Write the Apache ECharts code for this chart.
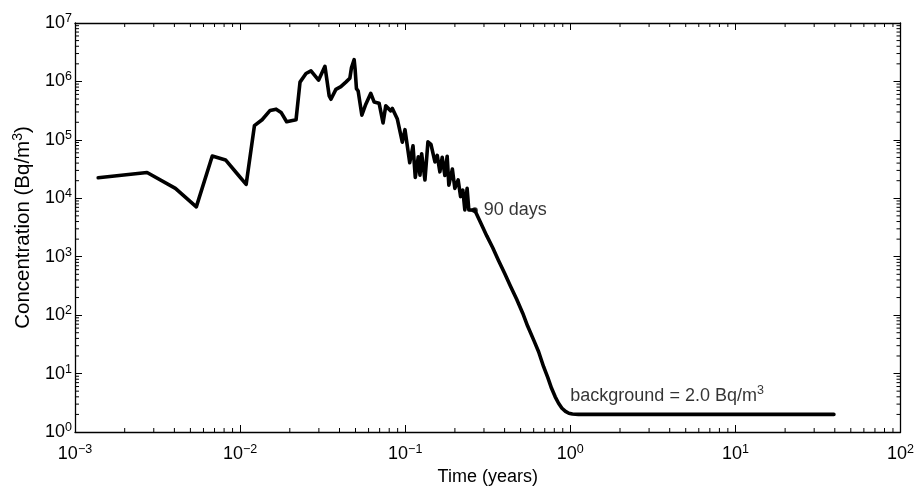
<!DOCTYPE html>
<html><head><meta charset="utf-8">
<script src="https://cdn.jsdelivr.net/npm/echarts@6/dist/echarts.min.js"></script>
<style>html,body{margin:0;padding:0;background:#fff}#c{width:917px;height:491px}</style>
</head><body><div id="c"></div>
<script>
// Time in years (x) and concentration in Bq/m^3 (y)
const timeYears = [
  0.001382, 0.002732, 0.004056, 0.005429, 0.006784, 0.008162, 0.009685, 0.01088,
  0.01221, 0.01359, 0.01520, 0.01652, 0.01771, 0.01914, 0.02182, 0.02306,
  0.02507, 0.02687, 0.02987, 0.03265, 0.03465, 0.03549, 0.03804, 0.04077,
  0.04371, 0.04621, 0.04725, 0.04906, 0.04974, 0.05066, 0.05188, 0.05461,
  0.05773, 0.06188, 0.06478, 0.06948, 0.07343, 0.07624, 0.08177, 0.08361,
  0.08961, 0.09605, 0.09972, 0.1065, 0.1115, 0.1151, 0.1200, 0.1229,
  0.1258, 0.1317, 0.1373, 0.1432, 0.1514, 0.1563, 0.1622, 0.1675,
  0.1739, 0.1795, 0.1838, 0.1930, 0.1998, 0.2093, 0.2164, 0.2234,
  0.2297, 0.2371, 0.2428, 0.264,
  0.2869, 0.312, 0.339, 0.368, 0.4006, 0.435, 0.4733, 0.515, 0.5514, 0.5995,
  0.6427, 0.689, 0.730, 0.770, 0.810, 0.849, 0.890, 0.935, 0.98, 1.03, 1.12,
  1.5, 2.0, 3.0, 5.0, 10, 20, 39.5
];
const concentration = [
  22430, 27580, 14770, 7120, 52920, 45290, 25510, 17280,
  174800, 221000, 318700, 335300, 294700, 204300, 221000, 973000,
  1366000, 1519000, 1052000, 1817000, 563400, 495200, 731800, 813400,
  973000, 1137000, 1707000, 2360000, 1597000, 752100, 684800, 265300,
  407500, 626100, 445900, 423800, 194200, 381400, 313700, 344600,
  226900, 91410, 149500, 40760, 79120, 22690, 51500, 24830,
  57910, 20590, 92500, 83880, 41880, 54180, 28350, 50500,
  24540, 52510, 16810, 31620, 14770, 20590, 10690, 13820,
  6335, 14770, 6335, 6260,
  3770, 2270, 1421, 855, 515, 310, 186.7, 108, 65.1, 37.7,
  23.6, 13.1, 8.6, 5.6, 4.0, 3.1, 2.55, 2.25, 2.09, 2.03, 2.0,
  2.0, 2.0, 2.0, 2.0, 2.0, 2.0, 2.0
];
// Annotated point (90 days)
const markTime = [0.264];
const markConc = [6260];
const markLabel = ['90 days'];
// Background annotation anchor
const bgTime = [1.0];
const bgConc = [4.1];
const bgLabel = ['background = 2.0 Bq/m'];
const bgLabelSup = '3';
// Axis ranges
const X_MIN = 1e-3, X_MAX = 1e2, Y_MIN = 1, Y_MAX = 1e7;

const FONT = '"Liberation Sans", Arial, Helvetica, sans-serif';
const lineData = timeYears.map((t, i) => [t, concentration[i]]);

function minorValues(lo, hi) {
  const out = [];
  for (let e = Math.round(Math.log10(lo)); e < Math.round(Math.log10(hi)); e++) {
    for (let k = 2; k <= 9; k++) out.push(k * Math.pow(10, e));
  }
  return out;
}
const minorX = minorValues(X_MIN, X_MAX);
const minorY = minorValues(Y_MIN, Y_MAX);

function powLabel(v) {
  const e = Math.round(Math.log10(v));
  const s = e < 0 ? '\u2212' + (-e) : String(e);
  return '{b|10}{s|' + s + '}';
}
const tickRich = {
  b: { fontSize: 18, fontFamily: FONT, color: '#000', lineHeight: 22 },
  s: { fontSize: 12.5, fontFamily: FONT, color: '#000', lineHeight: 8, verticalAlign: 'top' }
};

const axisCommon = {
  type: 'log', logBase: 10,
  axisLine: { show: true, lineStyle: { color: '#000', width: 1.3 } },
  splitLine: { show: false },
  minorTick: { show: false },
  minorSplitLine: { show: false }
};

const chart = echarts.init(document.getElementById('c'), null, { renderer: 'canvas' });
chart.setOption({
  backgroundColor: '#fff',
  animation: false,
  grid: { left: 75, right: 14, top: 23, bottom: 55, containLabel: false },
  xAxis: [
    Object.assign({}, axisCommon, {
      position: 'bottom', min: X_MIN, max: X_MAX, splitNumber: 5,
      axisTick: { show: true, inside: true, length: 7, lineStyle: { color: '#000', width: 1 } },
      axisLabel: { margin: 11, formatter: powLabel, rich: tickRich },
      name: 'Time (years)', nameLocation: 'middle', nameGap: 36,
      nameTextStyle: { fontSize: 18, fontFamily: FONT, color: '#000' }
    }),
    Object.assign({}, axisCommon, {
      position: 'top', min: X_MIN, max: X_MAX, splitNumber: 5,
      axisTick: { show: true, inside: true, length: 7, lineStyle: { color: '#000', width: 1 } },
      axisLabel: { show: false }
    })
  ],
  yAxis: [
    Object.assign({}, axisCommon, {
      position: 'left', min: Y_MIN, max: Y_MAX, splitNumber: 7,
      axisTick: { show: true, inside: true, length: 7, lineStyle: { color: '#000', width: 1 } },
      axisLabel: { margin: 3, formatter: powLabel, rich: tickRich },
      name: '{n|Concentration (Bq/m}{s|3}{n|)}', nameLocation: 'middle', nameGap: 39, nameRotate: 90,
      nameTextStyle: {
        rich: {
          n: { fontSize: 20.5, fontFamily: FONT, color: '#000', lineHeight: 25 },
          s: { fontSize: 14, fontFamily: FONT, color: '#000', lineHeight: 9, verticalAlign: 'top' }
        }
      }
    }),
    Object.assign({}, axisCommon, {
      position: 'right', min: Y_MIN, max: Y_MAX, splitNumber: 7,
      axisTick: { show: true, inside: true, length: 7, lineStyle: { color: '#000', width: 1 } },
      axisLabel: { show: false }
    })
  ],
  series: [
    {
      type: 'custom', xAxisIndex: 0, yAxisIndex: 0, silent: true, clip: false, z: 1,
      data: [[1, 1]],
      renderItem: function (params, api) {
        const ch = [];
        const L = 4;
        const st = { stroke: '#000', lineWidth: 1 };
        minorX.forEach(v => {
          const b = api.coord([v, Y_MIN]);
          const t = api.coord([v, Y_MAX]);
          ch.push({ type: 'line', shape: { x1: b[0], y1: b[1], x2: b[0], y2: b[1] - L }, style: st });
          ch.push({ type: 'line', shape: { x1: t[0], y1: t[1], x2: t[0], y2: t[1] + L }, style: st });
        });
        minorY.forEach(v => {
          const l = api.coord([X_MIN, v]);
          const r = api.coord([X_MAX, v]);
          ch.push({ type: 'line', shape: { x1: l[0], y1: l[1], x2: l[0] + L, y2: l[1] }, style: st });
          ch.push({ type: 'line', shape: { x1: r[0], y1: r[1], x2: r[0] - L, y2: r[1] }, style: st });
        });
        return { type: 'group', children: ch };
      }
    },
    {
      type: 'line', xAxisIndex: 0, yAxisIndex: 0, data: lineData,
      showSymbol: false, symbol: 'none', smooth: false, z: 3,
      lineStyle: { color: '#000', width: 3.6, join: 'round', cap: 'round' }
    },
    {
      type: 'scatter', xAxisIndex: 0, yAxisIndex: 0, z: 4,
      data: markTime.map((t, i) => ({ value: [t, markConc[i]], name: markLabel[i] })),
      symbol: 'circle', symbolSize: 6, itemStyle: { color: '#000' },
      label: { show: true, position: 'right', distance: 6, formatter: p => p.name,
        fontSize: 18, fontFamily: FONT, color: '#000' }
    },
    {
      type: 'scatter', xAxisIndex: 0, yAxisIndex: 0, z: 4,
      data: bgTime.map((t, i) => ({ value: [t, bgConc[i]], name: bgLabel[i] })),
      symbol: 'circle', symbolSize: 0, itemStyle: { color: 'rgba(0,0,0,0)' },
      label: { show: true, position: 'right', distance: 0,
        formatter: p => '{n|' + p.name + '}{s|' + bgLabelSup + '}',
        rich: {
          n: { fontSize: 18, fontFamily: FONT, color: '#000', lineHeight: 24 },
          s: { fontSize: 12.5, fontFamily: FONT, color: '#000', lineHeight: 9, verticalAlign: 'top' }
        }
      }
    }
  ]
});
</script></body></html>
